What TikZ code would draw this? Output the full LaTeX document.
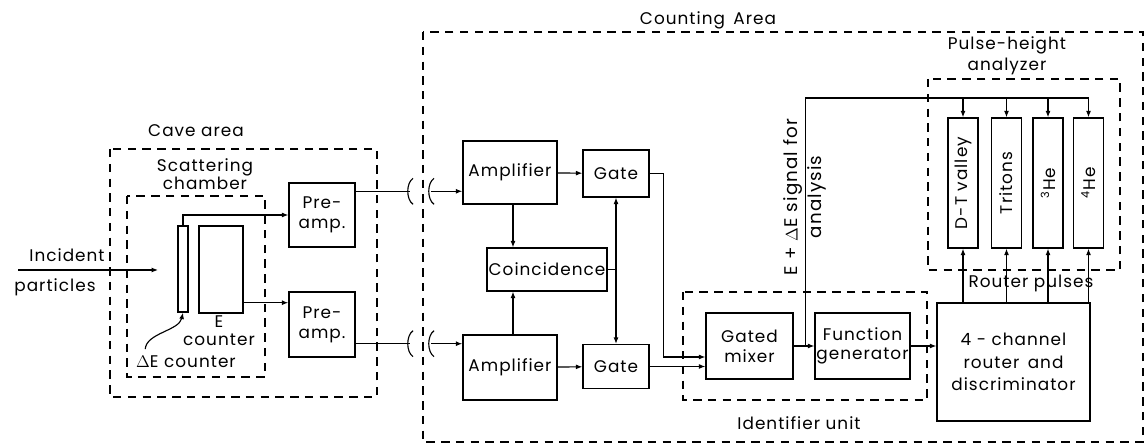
\documentclass[tikz,border=0pt]{standalone}
\usepackage{fontspec}
\usepackage{graphicx}
\setmainfont{Poppins}[LetterSpace=6]
\usetikzlibrary{arrows.meta, calc}

\begin{document}
\begin{tikzpicture}[
    x=0.025cm, y=-0.025cm,
    font=\fontsize{12}{14}\selectfont,
    box/.style={rectangle, draw, line width=1pt, align=center, inner sep=1pt},
    area/.style={draw, line width=1pt, dash pattern=on 6pt off 4.5pt},
    wire/.style={line width=0.8pt},
    arrow/.style={wire, -{Latex[length=4.5pt, width=3.5pt]}},
    twoway/.style={wire, {Latex[length=4.5pt, width=3.5pt]}-{Latex[length=4.5pt, width=3.5pt]}},
    chan/.style={box, minimum width=0.75cm, minimum height=3.25cm},
    cut/.style={wire}
]
\useasboundingbox (0,0) rectangle (1145,444);

% Cave area and scattering chamber
\draw[area] (110,149) rectangle (377,397);
\node (cavelbl) at (196,131) {Cave area};
\draw[area] (127,196) rectangle (265,377);
\node (chamlbl) [align=center, font=\fontsize{12}{13}\selectfont] at (205,174) {Scattering\\chamber};

\node (decnt) [box, minimum width=0.25cm, minimum height=2.15cm, inner sep=0pt] at (183,269) {};
\node (ecnt) [box, minimum width=1.1cm, minimum height=2.175cm] at (221,269.5) {};
\node (elbl) [align=center, font=\fontsize{12}{13}\selectfont] at (219,331) {E\\counter};
\node (delbl) at (186,362) {$\Delta$E counter};

\node (pre1) [box, minimum width=1.65cm, minimum height=1.6cm] at (322,215) {Pre-\\amp.};
\node (pre2) [box, minimum width=1.65cm, minimum height=1.625cm] at (322,324.5) {Pre-\\amp.};

% Incident beam
\coordinate (beamA) at (18,270);
\coordinate (beamB) at (158,270);
\draw[arrow] (beamA) -- (beamB);
\node (inclbl) at (67,255) {Incident};
\node (parlbl) at (55,287) {particles};

% Detector signals
\draw[arrow] (decnt.north) |- (pre1.west);
\coordinate (eout) at ($(ecnt.south east)+(0,-11)$);
\draw[arrow] (eout) -- (eout -| pre2.west);
\coordinate (dtip) at ($(delbl.north west)+(14,-2)$);
\draw[arrow] (dtip) .. controls ($(dtip)+(1,-16)$) and ($(decnt.south)+(-4,18)$) .. (decnt.south);

% Counting area
\draw[area] (423,32) rectangle (1143,442);
\node (cntlbl) at (708,20) {Counting\enspace Area};

\node (amp1) [box, minimum width=2.35cm, minimum height=1.575cm] at (510,172.5) {Amplifier};
\node (amp2) [box, minimum width=2.35cm, minimum height=1.625cm] at (510,367.5) {Amplifier};
\node (gate1) [box, minimum width=1.65cm, minimum height=1.175cm] at (616,173.5) {Gate};
\node (gate2) [box, minimum width=1.65cm, minimum height=1.1cm] at (616,366.5) {Gate};
\node (coinc) [box, minimum width=3cm, minimum height=1.075cm] at (547,269.5) {Coincidence};

% Cable runs with breaks
\coordinate (p1out) at ($(pre1.north east)+(0,9)$);
\coordinate (p2out) at ($(pre2.south east)+(0,-14)$);
\coordinate (cutL) at (410,0);
\coordinate (cutR) at (431,0);
\draw[wire] (p1out) -- (p1out -| cutL);
\draw[arrow] (p1out -| cutR) -- (p1out -| amp1.west);
\draw[wire] (p2out) -- (p2out -| cutL);
\draw[arrow] (p2out -| cutR) -- (p2out -| amp2.west);
\foreach \p in {p1out, p2out}
  \foreach \c in {cutL, cutR}
    \draw[cut] (\p -| \c) ++(3,-13) .. controls +(-7,5) and +(-7,-5) .. ++(0,26);

\draw[arrow] (amp1) -- (gate1);
\draw[arrow] (amp2) -- (gate2);
\coordinate (a1s) at ($(amp1.south)+(3,0)$);
\coordinate (a2n) at ($(amp2.north)+(3,0)$);
\draw[arrow] (a1s) -- (a1s |- coinc.north);
\draw[arrow] (a2n) -- (a2n |- coinc.south);
\draw[twoway] (gate1.south) -- (gate1.south |- gate2.north);
\draw[wire] (coinc.east) -- (coinc.east -| gate1.south);

% Identifier unit
\draw[area] (683,292) rectangle (927,400);
\node (idlbl) at (799,423) {Identifier unit};
\node (mix) [box, minimum width=2.175cm, minimum height=1.65cm] at (749.5,346) {Gated\\mixer};
\node (fgen) [box, minimum width=2.375cm, minimum height=1.65cm] at (862.5,346) {Function\\generator};

\coordinate (m1in) at ($(mix.west)+(0,11)$);
\draw[arrow] (gate1.east) -- ++(14,0) |- (m1in);
\draw[arrow] (gate2.east) -- (gate2.east -| mix.west);
\draw[arrow] (mix) -- (fgen);

% Router
\node (router) [box, minimum width=3.825cm, minimum height=2.95cm] at (1013.5,362) {4 - channel\\[2pt]router\enspace and\\[2pt]discriminator};
\draw[arrow] (fgen.east) -- (fgen.east -| router.west);

% Pulse-height analyzer
\draw[area] (928,79) rectangle (1120,270);
\node (phalbl) [align=center, font=\fontsize{12}{15}\selectfont] at (1007,56) {Pulse-height\\analyzer};
\node (dtv) [chan] at (963,183) {\rotatebox{90}{D-T valley}};
\node (trit) [chan] at (1006.5,183) {\rotatebox{90}{Tritons}};
\node (he3) [chan] at (1048,183) {\rotatebox{90}{\textsuperscript{3}He}};
\node (he4) [chan] at (1088.5,183) {\rotatebox{90}{\textsuperscript{4}He}};
\node (rplbl) at (1031,283) {Router pulses};

\coordinate (tap) at ($(fgen.west)+(-9,0)$);
\coordinate (bus) at (0,98);
\draw[wire] (tap) |- (he4.north |- bus);
\foreach \ch in {dtv, trit, he3, he4} {
  \draw[arrow] (\ch.north |- bus) -- (\ch.north);
  \draw[arrow] (\ch.south |- router.north) -- (\ch.south);
}
\node (siglbl) [rotate=90, align=center, font=\fontsize{13}{17}\selectfont] at (805,197) {E + $\Delta$E signal for\\analysis};

\end{tikzpicture}
\end{document}
